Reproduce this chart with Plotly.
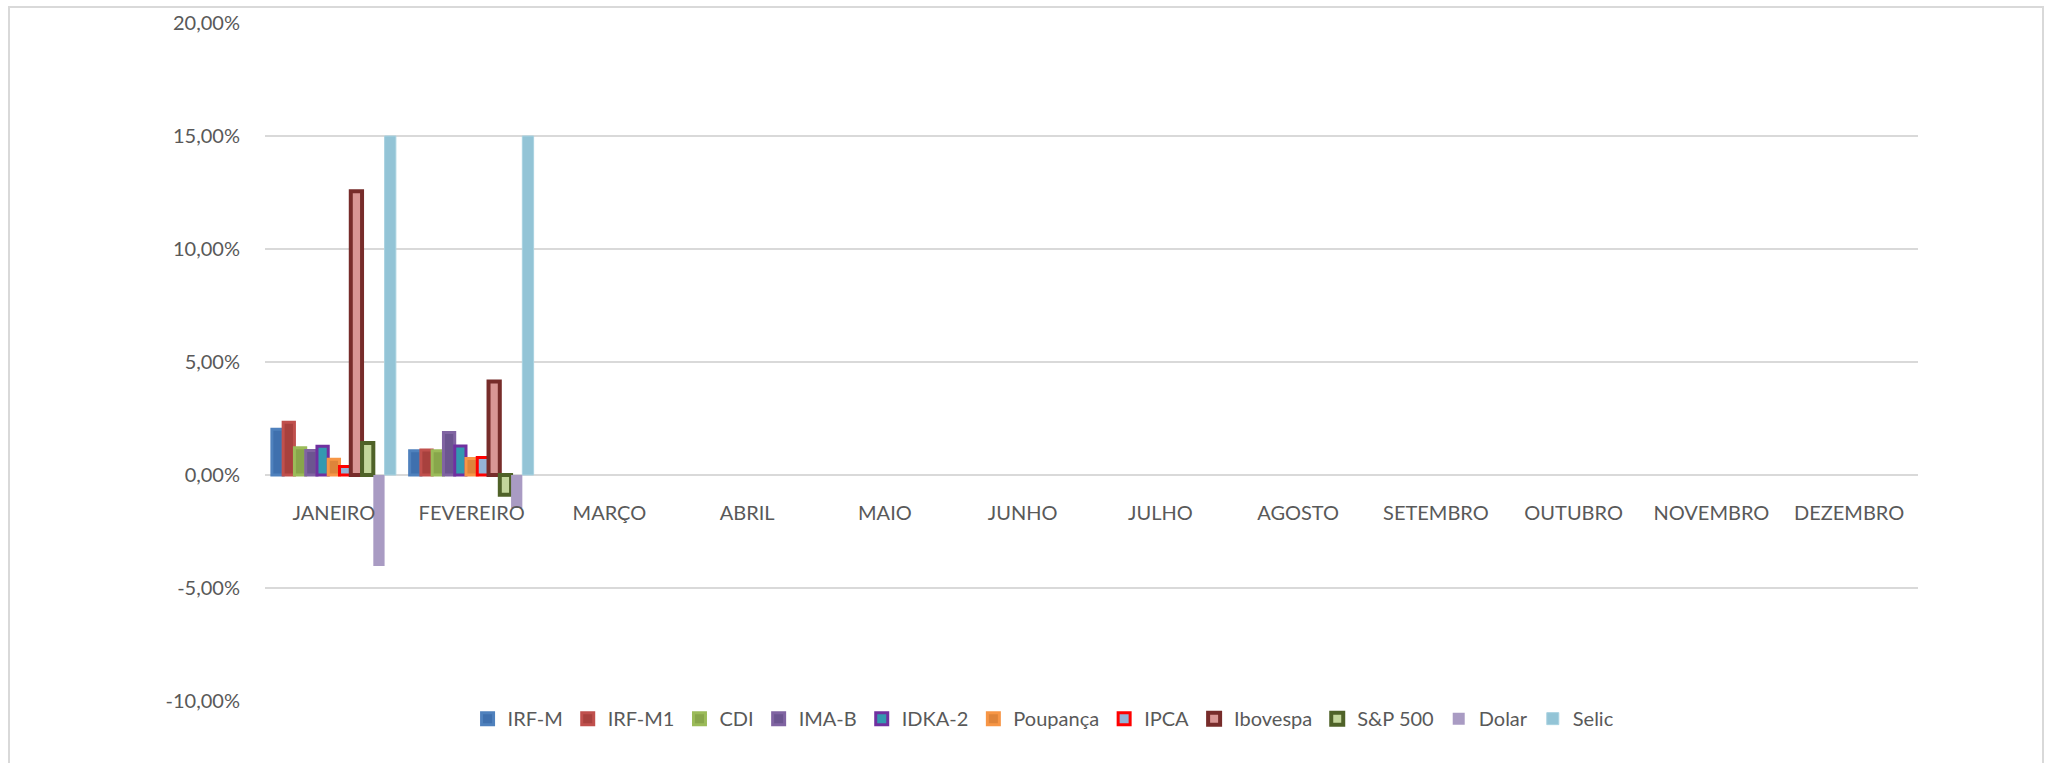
import plotly.graph_objects as go

months = ["JANEIRO", "FEVEREIRO", "MARÇO", "ABRIL", "MAIO", "JUNHO", "JULHO",
          "AGOSTO", "SETEMBRO", "OUTUBRO", "NOVEMBRO", "DEZEMBRO"]

irf_m = [2.02, 1.07]
irf_m1 = [2.33, 1.11]
cdi = [1.21, 1.07]
ima_b = [1.08, 1.88]
idka_2 = [1.27, 1.28]
poupanca = [0.70, 0.73]
ipca = [0.38, 0.77]
ibovespa = [12.56, 4.14]
sp500 = [1.42, -0.87]
dolar = [-4.03, -1.46]
selic = [15.0, 15.0]

y_ticks = [-10, -5, 0, 5, 10, 15, 20]
y_tick_labels = ["-10,00%", "-5,00%", "0,00%", "5,00%", "10,00%", "15,00%", "20,00%"]

series = [
    ("IRF-M", irf_m, "#3F70AE", "#4F81BD", 3),
    ("IRF-M1", irf_m1, "#A8413E", "#C0504D", 3),
    ("CDI", cdi, "#88A64B", "#9BBB59", 3),
    ("IMA-B", ima_b, "#6C5590", "#8064A2", 3),
    ("IDKA-2", idka_2, "#3399B0", "#7030A0", 3),
    ("Poupança", poupanca, "#DE843A", "#F79646", 3),
    ("IPCA", ipca, "#95B3D7", "#FF0000", 3),
    ("Ibovespa", ibovespa, "#D99694", "#772C2A", 4),
    ("S&P 500", sp500, "#C3D69B", "#4F6228", 4),
    ("Dolar", dolar, "#A99BC3", "#A99BC3", 0),
    ("Selic", selic, "#93C4D6", "#A9D2E0", 1),
]

W, H = 2045, 763
ML, MR, MT, MB = 265, 127, 23, 62
PW, PH = W - ML - MR, H - MT - MB

fig = go.Figure()
for name, vals, fill, line, lw in series:
    full = list(vals) + [None] * (len(months) - len(vals))
    fig.add_trace(go.Bar(
        name=name, x=months, y=full,
        marker=dict(color=fill, line=dict(color=line, width=lw)),
    ))

ymin, ymax = y_ticks[0], y_ticks[-1]
zero_pos = (0 - ymin) / (ymax - ymin)

fig.update_layout(
    width=W, height=H,
    margin=dict(l=ML, r=MR, t=MT, b=MB, autoexpand=False),
    paper_bgcolor="white", plot_bgcolor="white",
    barmode="group", bargap=0.1, bargroupgap=0,
    font=dict(family="Lato, 'Liberation Sans', sans-serif", size=20, color="#595959"),
    showlegend=True,
    legend=dict(orientation="h", x=0.471, xanchor="center", y=-0.026, yanchor="middle",
                font=dict(size=20, color="#595959"), traceorder="normal",
                itemwidth=30, bgcolor="rgba(0,0,0,0)"),
    xaxis=dict(anchor="free", position=zero_pos, showline=False, showgrid=False,
               ticks="", ticklabelstandoff=24, tickfont=dict(size=20, color="#595959"),
               type="category"),
    yaxis=dict(range=[ymin, ymax], tickvals=y_ticks, ticktext=y_tick_labels,
               showgrid=True, gridcolor="#D9D9D9", gridwidth=2,
               zeroline=True, zerolinecolor="#D9D9D9", zerolinewidth=2,
               showline=False, ticks="", ticklabelstandoff=24,
               tickfont=dict(size=20, color="#595959")),
    shapes=[dict(type="rect", xref="paper", yref="paper",
                 x0=(9 - ML) / PW, x1=(2043 - ML) / PW,
                 y0=-(H + 10 - MT - PH) / PH, y1=(MT + PH - 7) / PH,
                 line=dict(color="#D9D9D9", width=2), fillcolor="rgba(0,0,0,0)",
                 layer="below")],
)

fig.write_html("out.html", config={"displayModeBar": False},
               post_script="document.body.style.margin='0';document.body.style.overflow='hidden';")
